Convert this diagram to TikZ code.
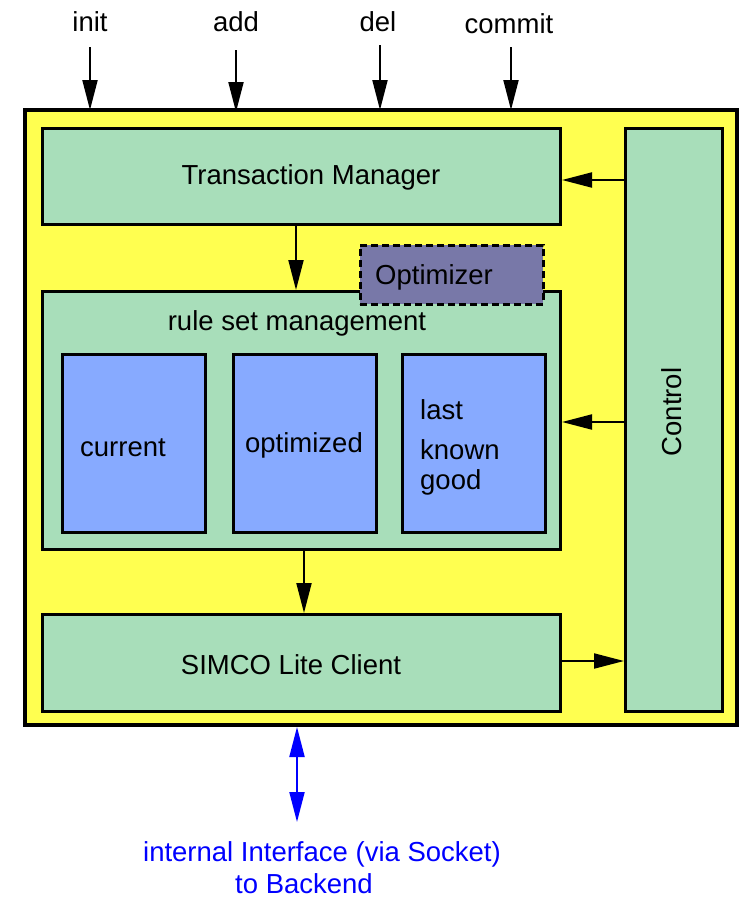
\documentclass[tikz,border=0pt]{standalone}
\usepackage{fontspec}
\setmainfont{Liberation Sans}
\usetikzlibrary{arrows.meta}
\definecolor{shellyellow}{RGB}{255,255,80}
\definecolor{mgrgreen}{RGB}{168,222,186}
\definecolor{setblue}{RGB}{135,170,255}
\definecolor{optpurple}{RGB}{120,120,168}
\tikzset{
  box/.style={draw=black, line width=3pt, fill=mgrgreen},
  setbox/.style={draw=black, line width=3pt, fill=setblue},
  lbl/.style={font=\fontsize{27.5}{33}\selectfont, inner sep=0pt},
  tip/.tip={Triangle[length=30pt,width=15pt]},
  flow/.style={draw=black, line width=2pt, -tip},
  iface/.style={draw=blue, line width=2pt, tip-tip},
}
\begin{document}
\begin{tikzpicture}[x=1pt,y=-1pt]
\useasboundingbox (0,0) rectangle (740,898);

% outer shell
\draw[line width=3.5pt, fill=shellyellow] (25,110) rectangle (737,725);
\coordinate (shellBottom) at (297,727);

% components
\node[box, minimum width=518pt, minimum height=96pt, anchor=north west] (tm) at (41,127) {};
\node[lbl] at (311,177) {Transaction Manager};

\node[box, minimum width=97pt, minimum height=583pt, anchor=north west] (ctrl) at (624,127) {};
\node[lbl, rotate=90] at (672,412) {Control};

\node[box, minimum width=518pt, minimum height=258pt, anchor=north west] (rsm) at (41,290) {};
\node[lbl] (rsmtitle) at (297,323) {rule set management};

\node[setbox, minimum width=143pt, minimum height=178pt, anchor=north west] (cur) at (61,353) {};
\node[lbl] at (123,448) {current};
\node[setbox, minimum width=143pt, minimum height=178pt, anchor=north west] (opt) at (232,353) {};
\node[lbl] at (304,445) {optimized};
\node[setbox, minimum width=143pt, minimum height=178pt, anchor=north west] (lkg) at (401,353) {};
\node[lbl, anchor=west] at (420,410) {last};
\node[lbl, anchor=west] at (420,450) {known};
\node[lbl, anchor=west] at (420,482) {good};

\node[draw=black, dashed, dash pattern=on 7pt off 4pt, line width=2.5pt, fill=optpurple,
      minimum width=183pt, minimum height=59pt, anchor=north west] (optim) at (359,244) {};
\node[lbl] at (434,277) {Optimizer};

\node[box, minimum width=518pt, minimum height=97pt, anchor=north west] (simco) at (41,613) {};
\node[lbl] at (291,665) {SIMCO Lite Client};

% inputs
\node[lbl] (init) at (90,22) {init};
\node[lbl] (add) at (236,22) {add};
\node[lbl] (del) at (378,22) {del};
\node[lbl] (commit) at (509,24) {commit};
\draw[flow] (90,47) -- (90,110);
\draw[flow] (236,50) -- (236,112);
\draw[flow] (380,45) -- (380,110);
\draw[flow] (511,47) -- (511,110);

% internal flow
\draw[flow] (tm.south -| 296,0) -- (rsm.north -| 296,0);
\draw[flow] (rsm.south -| 304,0) -- (simco.north -| 304,0);
\draw[flow] (ctrl.west |- 0,180) -- (tm.east |- 0,180);
\draw[flow] (ctrl.west |- 0,422) -- (rsm.east |- 0,422);
\draw[flow] (simco.east |- 0,661) -- (ctrl.west |- 0,661);

% backend interface
\coordinate (ifaceEnd) at (297,822);
\draw[iface] (shellBottom) -- (ifaceEnd);
\node[lbl, text=blue, align=center] (backend) at (322,868)
  {internal Interface (via Socket)\\[-1pt]\hspace*{-36pt}to Backend};
\end{tikzpicture}
\end{document}
